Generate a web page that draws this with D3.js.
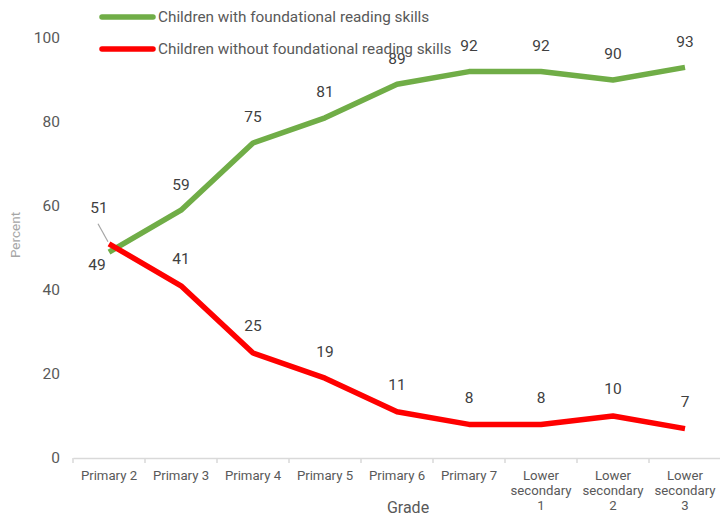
<!DOCTYPE html>
<html>
<head>
<meta charset="utf-8">
<script src="https://cdn.jsdelivr.net/npm/d3@7"></script>
<style>
  body { margin: 0; background: #fff; }
  text { font-family: Roboto, "Liberation Sans", sans-serif; }
</style>
</head>
<body>
<div id="chart"></div>
<script>
const grades = ["Primary 2", "Primary 3", "Primary 4", "Primary 5", "Primary 6", "Primary 7",
  "Lower secondary 1", "Lower secondary 2", "Lower secondary 3"];
const withSkills = [49, 59, 75, 81, 89, 92, 92, 90, 93];
const withoutSkills = [51, 41, 25, 19, 11, 8, 8, 10, 7];
const yTicks = [0, 20, 40, 60, 80, 100];

const seriesNames = ["Children with foundational reading skills", "Children without foundational reading skills"];
const colors = ["#70AD47", "#FF0000"];

const W = 720, H = 518;
const plotL = 73, plotR = 721, plotT = 38, plotB = 458;

const svg = d3.select("#chart").append("svg")
  .attr("width", W).attr("height", H);

const x = d3.scaleBand().domain(grades).range([plotL, plotR]);
const y = d3.scaleLinear().domain([0, 100]).range([plotB, plotT]);

// y tick labels (no axis line)
svg.append("g")
  .selectAll("text")
  .data(yTicks)
  .join("text")
  .attr("x", 60)
  .attr("y", d => y(d))
  .attr("dy", "0.35em")
  .attr("text-anchor", "end")
  .attr("font-size", "15.5px")
  .attr("fill", "#595959")
  .text(d => d);

// x axis
const xAxis = svg.append("g")
  .attr("transform", `translate(0,${plotB})`)
  .call(d3.axisBottom(x).tickSize(0).tickFormat(""));
xAxis.select(".domain").attr("stroke", "#d9d9d9").attr("stroke-width", 1.5);

svg.append("g")
  .selectAll("line")
  .data(d3.range(grades.length + 1))
  .join("line")
  .attr("x1", i => plotL + i * x.bandwidth())
  .attr("x2", i => plotL + i * x.bandwidth())
  .attr("y1", plotB)
  .attr("y2", plotB + 5)
  .attr("stroke", "#d9d9d9")
  .attr("stroke-width", 1.5);

const xl = svg.append("g")
  .selectAll("text")
  .data(grades)
  .join("text")
  .attr("x", d => x(d) + x.bandwidth() / 2)
  .attr("y", plotB + 22)
  .attr("text-anchor", "middle")
  .attr("font-size", "13.2px")
  .attr("fill", "#595959");

xl.each(function (d) {
  const t = d3.select(this);
  if (d.startsWith("Lower")) {
    const parts = ["Lower", "secondary", d.split(" ")[2]];
    parts.forEach((p, i) => {
      t.append("tspan").attr("x", x(d) + x.bandwidth() / 2).attr("dy", i === 0 ? 0 : 15).text(p);
    });
  } else {
    t.text(d);
  }
});

// axis titles
svg.append("text")
  .attr("x", 408).attr("y", 513)
  .attr("text-anchor", "middle")
  .attr("font-size", "16px")
  .attr("fill", "#595959")
  .text("Grade");

svg.append("text")
  .attr("transform", `translate(20,235) rotate(-90)`)
  .attr("text-anchor", "middle")
  .attr("font-size", "13.5px")
  .attr("fill", "#a6a6a6")
  .text("Percent");

// lines
const line = d3.line()
  .x((d, i) => x(grades[i]) + x.bandwidth() / 2)
  .y(d => y(d));

[withSkills, withoutSkills].forEach((vals, s) => {
  svg.append("path")
    .datum(vals)
    .attr("fill", "none")
    .attr("stroke", colors[s])
    .attr("stroke-width", 5.5)
    .attr("stroke-linejoin", "round")
    .attr("d", line);
});

// data labels
const labelG = svg.append("g")
  .attr("font-size", "15.5px")
  .attr("fill", "#404040")
  .attr("text-anchor", "middle");

withSkills.forEach((v, i) => {
  const cx = x(grades[i]) + x.bandwidth() / 2;
  const below = i === 0;
  labelG.append("text")
    .attr("x", below ? cx - 12 : cx)
    .attr("y", below ? y(v) + 12 : y(v) - 26)
    .attr("dy", "0.35em")
    .text(v);
});

withoutSkills.forEach((v, i) => {
  const cx = x(grades[i]) + x.bandwidth() / 2;
  if (i === 0) {
    labelG.append("text")
      .attr("x", cx - 10)
      .attr("y", y(v) - 36)
      .attr("dy", "0.35em")
      .text(v);
    svg.append("line")
      .attr("x1", cx - 11).attr("y1", y(v) - 20)
      .attr("x2", cx - 1).attr("y2", y(v) - 2)
      .attr("stroke", "#a6a6a6").attr("stroke-width", 1.2);
  } else {
    labelG.append("text")
      .attr("x", cx)
      .attr("y", y(v) - 27)
      .attr("dy", "0.35em")
      .text(v);
  }
});

// legend
const legend = svg.append("g")
  .selectAll("g")
  .data(seriesNames)
  .join("g")
  .attr("transform", (d, i) => `translate(100,${17 + i * 32})`);

legend.append("line")
  .attr("x1", 2).attr("x2", 53)
  .attr("stroke", (d, i) => colors[i])
  .attr("stroke-width", 5.5)
  .attr("stroke-linecap", "round");

legend.append("text")
  .attr("x", 58)
  .attr("dy", "0.35em")
  .attr("font-size", "15.3px")
  .attr("fill", "#595959")
  .text(d => d);
</script>
</body>
</html>
